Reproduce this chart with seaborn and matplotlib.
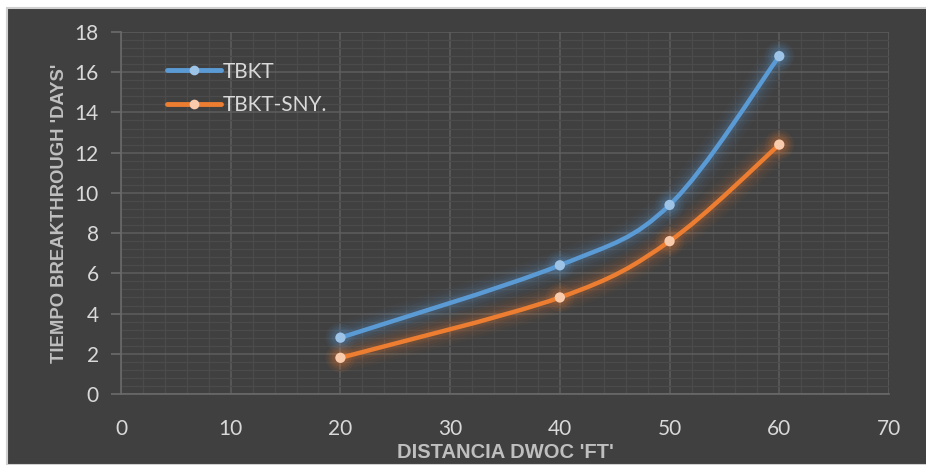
import matplotlib
matplotlib.use("Agg")
import matplotlib.pyplot as plt
import matplotlib.patheffects as pe
import numpy as np
import pandas as pd
import seaborn as sns
from matplotlib.lines import Line2D
from matplotlib.patches import PathPatch, Rectangle
from matplotlib.path import Path

# datos
distancia = [20, 40, 50, 60]
tbkt = [2.8, 6.4, 9.4, 16.8]
tbkt_sny = [1.8, 4.8, 7.6, 12.4]
series = ["TBKT", "TBKT-SNY."]
x_ticks = [0, 10, 20, 30, 40, 50, 60, 70]
y_ticks = [0, 2, 4, 6, 8, 10, 12, 14, 16, 18]

colores = {"TBKT": "#5B9BD5", "TBKT-SNY.": "#ED7D31"}
marcadores = {"TBKT": "#9DC3E6", "TBKT-SNY.": "#F8CBAD"}

df = pd.DataFrame({
    "x": distancia * 2,
    "y": tbkt + tbkt_sny,
    "serie": [series[0]] * len(distancia) + [series[1]] * len(distancia),
})

sns.set_theme(style="dark")
plt.rcParams["font.family"] = ["Lato", "DejaVu Sans"]

fondo = "#404040"
fig = plt.figure(figsize=(9.26, 4.65), dpi=100, facecolor="white")
fig.patches.append(Rectangle((7 / 926, 0), 1, (465 - 8) / 465, transform=fig.transFigure,
                             facecolor=fondo, edgecolor="#d0d0d0", lw=1.5, zorder=-10))
ax = fig.add_axes([121 / 926, 1 - 394 / 465, (889 - 121) / 926, (394 - 32) / 465])
ax.set_facecolor(fondo)


def curva_suave(xs, ys):
    # spline tipo Excel (Catmull-Rom convertido a Bezier)
    p = np.column_stack([xs, ys]).astype(float)
    ext = np.vstack([p[0], p, p[-1]])
    verts = [tuple(p[0])]
    codes = [Path.MOVETO]
    for i in range(1, len(ext) - 2):
        c1 = ext[i] + (ext[i + 1] - ext[i - 1]) / 6
        c2 = ext[i + 1] - (ext[i + 2] - ext[i]) / 6
        verts += [tuple(c1), tuple(c2), tuple(ext[i + 1])]
        codes += [Path.CURVE4] * 3
    return Path(verts, codes)


for nombre, vals in zip(series, [tbkt, tbkt_sny]):
    c = colores[nombre]
    glow = [pe.Stroke(linewidth=w, foreground=c, alpha=a)
            for w, a in [(22, 0.03), (18, 0.04), (14, 0.05), (10, 0.07), (7, 0.1)]]
    patch = PathPatch(curva_suave(distancia, vals), facecolor="none", edgecolor=c,
                      lw=3.2, capstyle="round", zorder=3,
                      path_effects=glow + [pe.Normal()])
    ax.add_patch(patch)

for nombre, vals in zip(series, [tbkt, tbkt_sny]):
    for s, a in [(420, 0.06), (260, 0.08), (150, 0.1)]:
        ax.scatter(distancia, vals, s=s, color=colores[nombre], alpha=a,
                   edgecolor="none", zorder=4)
sns.scatterplot(data=df, x="x", y="y", hue="serie", palette=marcadores, s=55,
                edgecolor="none", zorder=5, legend=False, ax=ax)

ax.set_xlim(0, 70)
ax.set_ylim(0, 18)
ax.set_xticks(x_ticks)
ax.set_yticks(y_ticks)
ax.set_xticks(np.arange(0, 70.1, 2), minor=True)
ax.set_yticks(np.arange(0, 18.01, 0.4), minor=True)
ax.grid(True, which="major", color="#5e5e5e", lw=1.1)
ax.grid(True, which="minor", color="#4b4b4b", lw=0.9)
ax.set_axisbelow(True)

for s in ["top", "right"]:
    ax.spines[s].set_visible(False)
for s in ["left", "bottom"]:
    ax.spines[s].set_color("#6a6a6a")
    ax.spines[s].set_linewidth(1.2)

ax.tick_params(axis="y", which="major", left=True, length=7, color="#6a6a6a",
               labelsize=15, labelcolor="#d9d9d9", pad=9)
ax.tick_params(axis="x", which="major", bottom=False, labelsize=15,
               labelcolor="#d9d9d9", pad=12)
ax.tick_params(which="minor", left=False, bottom=False)

etiqueta = dict(fontweight="bold", color="#bfbfbf",
                family=["Liberation Sans", "DejaVu Sans"])
ax.set_xlabel("DISTANCIA DWOC 'FT'", fontsize=14.5, labelpad=3, **etiqueta)
ax.set_ylabel("TIEMPO BREAKTHROUGH 'DAYS'", fontsize=13.3, labelpad=5, **etiqueta)

handles = [Line2D([0], [0], color=colores[n], lw=3.5, marker="o", markersize=7,
                  markerfacecolor=marcadores[n], markeredgecolor="none") for n in series]
leg = ax.legend(handles, series, loc="upper left", bbox_to_anchor=(0.035, 0.97),
                frameon=False, fontsize=15, labelcolor="#d9d9d9", handlelength=2.6,
                handletextpad=0.1, labelspacing=0.65)

fig.savefig("out.png", dpi=100, facecolor=fig.get_facecolor())
